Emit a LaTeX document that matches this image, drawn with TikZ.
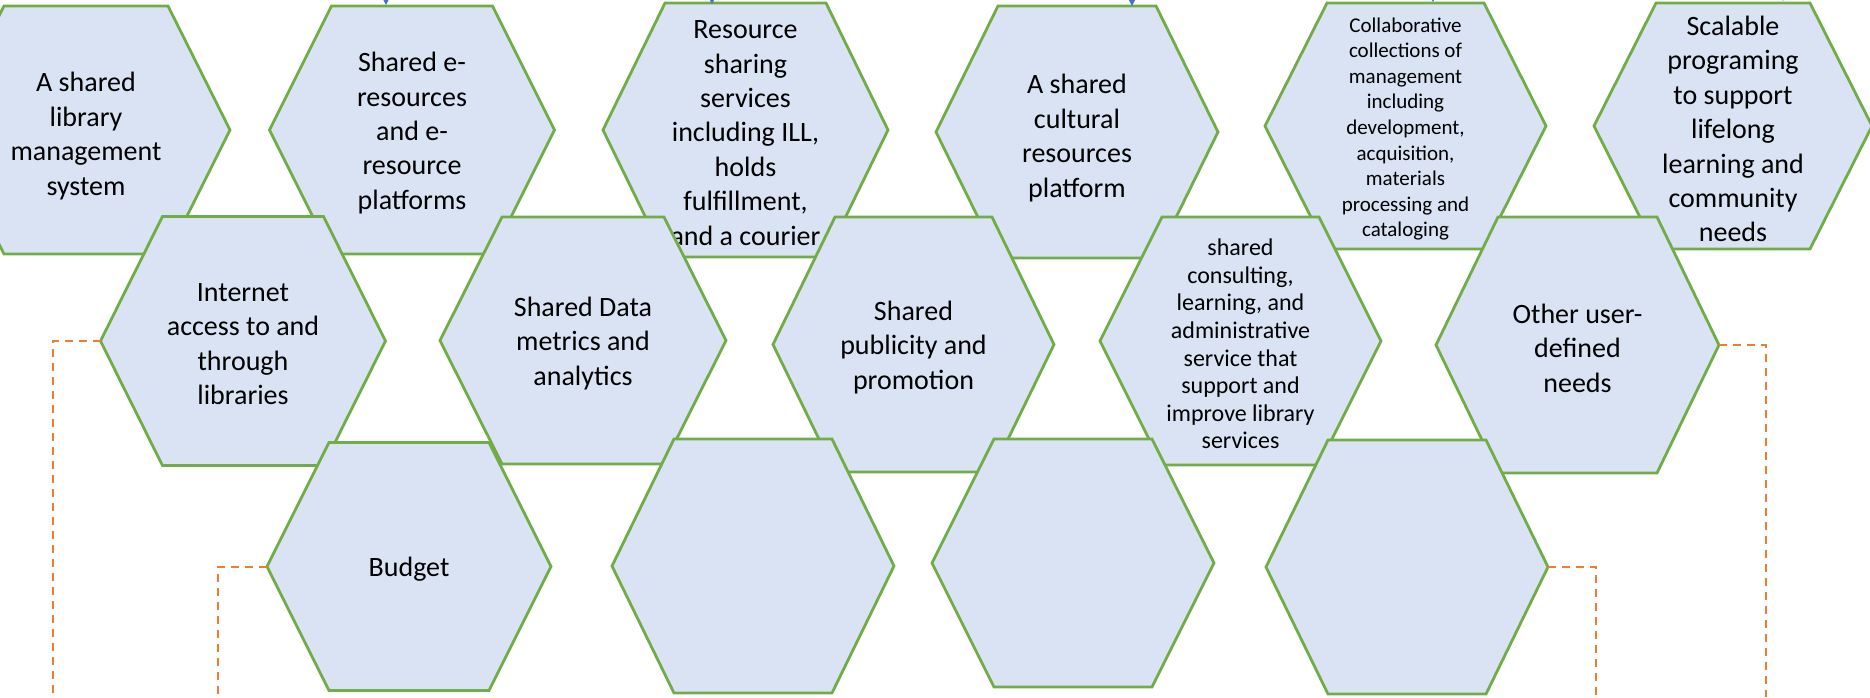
\documentclass[tikz,border=0pt]{standalone}
\usepackage{fontspec}
\setmainfont{Carlito}
\usetikzlibrary{arrows.meta}
\definecolor{hexfill}{HTML}{DAE3F3}
\definecolor{hexline}{HTML}{70AD47}
\definecolor{dashor}{HTML}{ED7D31}
\definecolor{arrblue}{HTML}{4472C4}
\tikzset{
  hexshape/.style={fill=hexfill, draw=hexline, line width=1.4pt, line join=miter},
  hextext/.style={align=center, inner sep=0pt, text=black, yshift=-1.5pt, font=\fontsize{14}{17.2}\selectfont},
  smalltext/.style={font=\fontsize{10.5}{12.8}\selectfont},
  midtext/.style={font=\fontsize{12}{13.8}\selectfont},
  dashline/.style={draw=dashor, line width=1pt, dash pattern=on 4pt off 3pt},
  toparrow/.style={draw=arrblue, line width=0.75pt, -{Triangle[length=4pt,width=4pt]}},
}
% name, cx, cy, half width, (unused), half height, node options, text
\newcommand\hexnode[8]{%
  \path[hexshape] ({#2-#4},{#3}) -- ({#2-#4+62},{#3-#6}) -- ({#2+#4-62},{#3-#6})
     -- ({#2+#4},{#3}) -- ({#2+#4-62},{#3+#6}) -- ({#2-#4+62},{#3+#6}) -- cycle;
  \node[hextext,#7] (#1) at (#2,#3) {#8};
  \coordinate (#1-w) at ({#2-#4},{#3});
  \coordinate (#1-e) at ({#2+#4},{#3});
}
\begin{document}
\begin{tikzpicture}[x=0.5pt,y=-0.5pt]
\useasboundingbox (0,0) rectangle (1870,697);
\clip (0,0) rectangle (1870,697);
% top row
\hexnode{H1}{86}{130}{144}{}{124}{yshift=-1.5pt}{A shared\\library\\management\\system}
\hexnode{H2}{412}{130}{142.5}{}{124}{}{Shared e-\\resources\\and e-\\resource\\platforms}
\hexnode{H3}{745.5}{130}{142.5}{}{127}{}{Resource\\sharing\\services\\including ILL,\\holds\\fulfillment,\\and a courier}
\hexnode{H4}{1077}{132}{141}{}{126}{yshift=-1.5pt}{A shared\\cultural\\resources\\platform}
\hexnode{H5}{1405.5}{126}{140.5}{}{123}{smalltext}{Collaborative\\collections of\\management\\including\\development,\\acquisition,\\materials\\processing and\\cataloging}
\hexnode{H6}{1733}{126}{139}{}{123}{}{Scalable\\programing\\to support\\lifelong\\learning and\\community\\needs}
% middle row
\hexnode{M1}{243}{341}{142.5}{}{124.5}{}{Internet\\access to and\\through\\libraries}
\hexnode{M2}{583}{340.5}{143}{}{123.5}{}{Shared Data\\metrics and\\analytics}
\hexnode{M3}{913.5}{344.5}{140.5}{}{127.5}{}{Shared\\publicity and\\promotion}
\hexnode{M4}{1240.5}{341}{140.5}{}{124}{midtext}{shared\\consulting,\\learning, and\\administrative\\service that\\support and\\improve library\\services}
\hexnode{M5}{1577.5}{345}{141.5}{}{128}{}{Other user-\\defined\\needs}
% bottom row
\hexnode{B1}{409}{566.5}{142}{}{124}{}{Budget}
\hexnode{B2}{753}{566}{141}{}{127}{}{}
\hexnode{B3}{1073}{563}{141}{}{124}{}{}
\hexnode{B4}{1407}{567}{141}{}{127}{}{}
% dashed orange connectors leaving the picture
\coordinate (d1) at (52.5,697);
\coordinate (d2) at (218,697);
\coordinate (d3) at (1596,697);
\coordinate (d4) at (1766,697);
\draw[dashline] (M1-w) -| (d1);
\draw[dashline] (B1-w) -| (d2);
\draw[dashline] (B4-e) -| (d3);
\draw[dashline] (M5-e) -| (d4);
% blue arrows entering from above
\coordinate (a2s) at (386,-14);  \coordinate (a2e) at (386,5);
\coordinate (a3s) at (712,-14);  \coordinate (a3e) at (712,4);
\coordinate (a4s) at (1132,-14); \coordinate (a4e) at (1132,6);
\coordinate (a5s) at (1433,-14); \coordinate (a5e) at (1433,2);
\coordinate (a6s) at (1783,-14); \coordinate (a6e) at (1783,1);
\draw[toparrow] (a2s) -- (a2e);
\draw[toparrow] (a3s) -- (a3e);
\draw[toparrow] (a4s) -- (a4e);
\draw[toparrow] (a5s) -- (a5e);
\draw[toparrow] (a6s) -- (a6e);
\end{tikzpicture}
\end{document}
